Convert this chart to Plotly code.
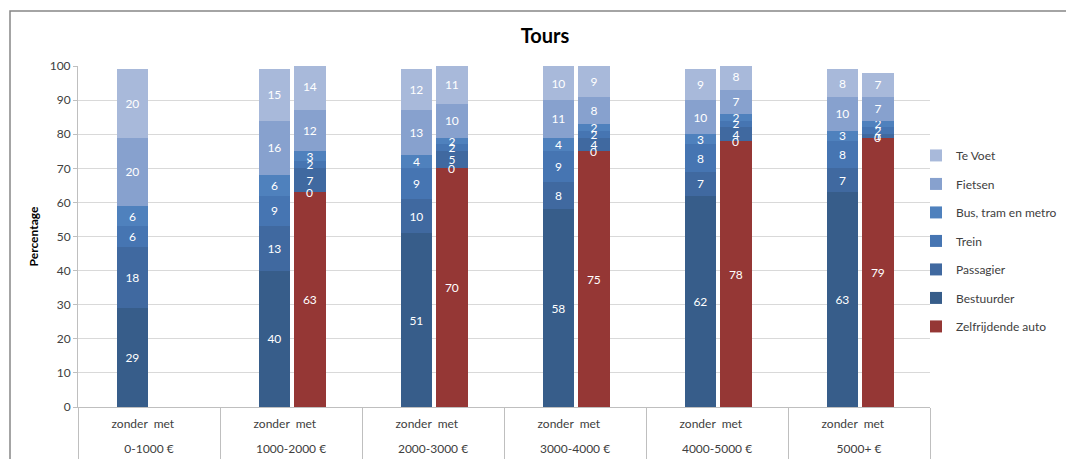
import plotly.graph_objects as go

# ---------------- data ----------------
groups = ["0-1000 €", "1000-2000 €", "2000-3000 €", "3000-4000 €", "4000-5000 €", "5000+ €"]
series_names = ["Bestuurder", "Passagier", "Trein", "Bus, tram en metro", "Fietsen", "Te Voet"]

# zonder (without self-driving car)
zonder_bestuurder = [29, 40, 51, 58, 62, 63]
zonder_passagier = [18, 13, 10, 8, 7, 7]
zonder_trein = [6, 9, 9, 9, 8, 8]
zonder_bus = [6, 6, 4, 4, 3, 3]
zonder_fietsen = [20, 16, 13, 11, 10, 10]
zonder_tevoet = [20, 15, 12, 10, 9, 8]

# met (with self-driving car)
met_zelf = [None, 63, 70, 75, 78, 79]
met_bestuurder = [None, 0, 0, 0, 0, 0]
met_passagier = [None, 7, 5, 4, 4, 1]
met_trein = [None, 2, 2, 2, 2, 2]
met_bus = [None, 3, 2, 2, 2, 2]
met_fietsen = [None, 12, 10, 8, 7, 7]
met_tevoet = [None, 14, 11, 9, 8, 7]

# ---------------- style ----------------
colors = {
    "Zelfrijdende auto": "#953735",
    "Bestuurder": "#375D8A",
    "Passagier": "#4069A0",
    "Trein": "#4675B2",
    "Bus, tram en metro": "#4F81BD",
    "Fietsen": "#87A1CE",
    "Te Voet": "#A8B9DA",
}
FONT = "Lato, 'Liberation Sans', sans-serif"
TXT = "#404040"
BAR_W = 0.222
Z_OFF = -0.228
M_OFF = 0.022

zonder_vals = [zonder_bestuurder, zonder_passagier, zonder_trein, zonder_bus, zonder_fietsen, zonder_tevoet]
met_vals = [met_bestuurder, met_passagier, met_trein, met_bus, met_fietsen, met_tevoet]

fig = go.Figure()

textstyle = dict(textposition="inside", insidetextanchor="middle", textangle=0,
                 textfont=dict(color="white", size=12, family=FONT),
                 marker_line_width=0, hoverinfo="skip")

n_leg = len(series_names) + 1
# Zelfrijdende auto (met only)
fig.add_trace(go.Bar(
    x=groups, y=met_zelf, name="Zelfrijdende auto", xaxis="x2",
    marker_color=colors["Zelfrijdende auto"], width=BAR_W, offset=M_OFF,
    text=[("" if v is None else str(v)) for v in met_zelf],
    legendgroup="Zelfrijdende auto", legendrank=n_leg * 100,
    showlegend=True, **textstyle))

for k, (name, zv, mv) in enumerate(zip(series_names, zonder_vals, met_vals)):
    rank = (n_leg - 1 - k) * 100
    fig.add_trace(go.Bar(
        x=groups, y=zv, name=name, xaxis="x",
        marker_color=colors[name], width=BAR_W, offset=Z_OFF,
        text=[str(v) for v in zv], legendgroup=name, legendrank=rank,
        showlegend=True, **textstyle))
    fig.add_trace(go.Bar(
        x=groups, y=mv, name=name, xaxis="x2",
        marker_color=colors[name], width=BAR_W, offset=M_OFF,
        text=[("" if v is None else str(v)) for v in mv],
        legendgroup=name, legendrank=rank, showlegend=False, **textstyle))

# zero-valued labels (Plotly hides text of zero-height bars)
annotations = []
for i, (z, b) in enumerate(zip(met_zelf, met_bestuurder)):
    if z is None or b is None or b != 0:
        continue
    annotations.append(dict(
        x=i + M_OFF + BAR_W / 2, y=z + b / 2, xref="x2", yref="y",
        text=str(b), showarrow=False,
        font=dict(color="white", size=12, family=FONT)))

spacer = "\u00a0"
fig.update_layout(
    width=1066, height=459,
    margin=dict(l=78, r=136, t=66, b=52, autoexpand=False),
    paper_bgcolor="white", plot_bgcolor="white",
    barmode="stack",
    font=dict(family=FONT, color=TXT, size=12),
    title=dict(text="<b>Tours</b>", x=545 / 1066, xref="container", xanchor="center",
               y=1 - 36 / 459, yref="container", yanchor="middle",
               font=dict(size=20, color="black", family=FONT)),
    uniformtext=dict(minsize=12, mode="show"),
    xaxis=dict(type="category", categoryarray=groups, categoryorder="array",
               range=[-0.5, 5.5], tickmode="array", tickvals=groups, ticktext=groups,
               ticks="outside", tickson="boundaries", ticklen=60, tickcolor="#BFBFBF",
               tickwidth=1, showline=True, linecolor="#BFBFBF", linewidth=1,
               showgrid=False, zeroline=False, ticklabelstandoff=31, automargin=False,
               tickfont=dict(size=12, color=TXT, family=FONT)),
    xaxis2=dict(type="category", categoryarray=groups, categoryorder="array",
                overlaying="x", anchor="y", side="bottom",
                range=[-0.5, 5.5], tickmode="array", tickvals=groups,
                ticktext=["zonder" + spacer * 2 + "met" + spacer * 4] * len(groups),
                ticks="", showline=False, showgrid=False, zeroline=False,
                ticklabelstandoff=8, automargin=False,
                tickfont=dict(size=12, color=TXT, family=FONT)),
    yaxis=dict(range=[0, 100], dtick=10, tick0=0, ticks="outside", ticklen=4,
               tickcolor="#BFBFBF", showline=True, linecolor="#BFBFBF",
               gridcolor="#D9D9D9", gridwidth=1, zeroline=False, automargin=False,
               tickfont=dict(size=12, color=TXT, family=FONT),
               title=dict(text="<b>Percentage</b>", standoff=8,
                          font=dict(size=12, color="black", family=FONT))),
    legend=dict(x=0.9836, xanchor="left", y=0.487, yanchor="middle",
                traceorder="grouped", tracegroupgap=9.5,
                font=dict(size=12, color=TXT, family=FONT),
                bgcolor="rgba(0,0,0,0)", itemclick=False),
    annotations=annotations,
    shapes=[dict(type="rect", xref="paper", yref="paper",
                 x0=(10 - 78) / 852, x1=1.5, y0=-0.5, y1=(407 - 11) / 341,
                 line=dict(color="#868686", width=1.5), fillcolor="rgba(0,0,0,0)",
                 layer="below")],
)

fig.write_html("out.html")
